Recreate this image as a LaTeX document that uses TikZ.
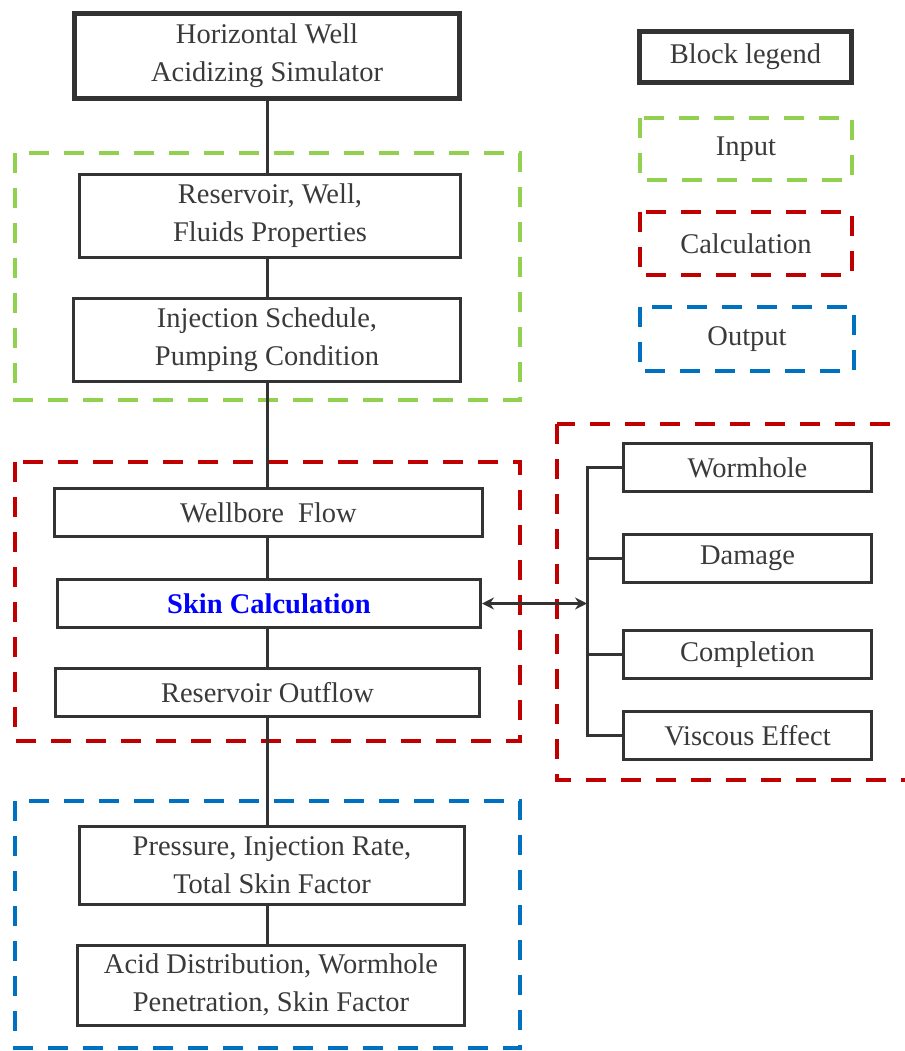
\documentclass[tikz,border=0pt]{standalone}
\usepackage{fontspec}
\setmainfont{Liberation Serif}
\usetikzlibrary{arrows.meta}
\definecolor{linegray}{HTML}{333333}
\definecolor{txtgray}{HTML}{3A3A3A}
\definecolor{ingreen}{HTML}{92D050}
\definecolor{calcred}{HTML}{C00000}
\definecolor{outblue}{HTML}{0070C0}
\definecolor{skinblue}{HTML}{0000FF}
\begin{document}
\begin{tikzpicture}[x=1pt,y=-1pt,
  every node/.style={font=\fontsize{28.5}{38}\selectfont, text=txtgray, align=center, inner sep=0pt},
  blk/.style={draw=linegray, line width=3pt, fill=white},
  thickblk/.style={draw=linegray, line width=5pt, fill=white},
  frame/.style={line width=4pt, dash pattern=on 20pt off 15pt},
  link/.style={draw=linegray, line width=3pt}]
\useasboundingbox (0,0) rectangle (904,1051);
% group frames
\draw[frame, ingreen] (15,153) rectangle (520,400);
\draw[frame, calcred] (15,462) rectangle (520,741);
\draw[frame, outblue] (15,801) rectangle (520,1048);
\draw[frame, calcred] (557,424) rectangle (945,780);
% main column
\node[thickblk, minimum width=385, minimum height=85] (top) at (267,56) {Horizontal Well\\Acidizing Simulator};
\node[blk, minimum width=381, minimum height=83] (res) at (270,216) {Reservoir, Well,\\Fluids Properties};
\node[blk, minimum width=387, minimum height=83] (inj) at (267,340) {Injection Schedule,\\Pumping Condition};
\node[blk, minimum width=428, minimum height=48] (wb) at (268.5,512.5) {Wellbore\ \ Flow};
\node[blk, minimum width=423, minimum height=48] (skin) at (269,603.5) {\textcolor{skinblue}{\textbf{Skin Calculation}}};
\node[blk, minimum width=424, minimum height=48] (ro) at (267.5,692.5) {Reservoir Outflow};
\node[blk, minimum width=385, minimum height=78] (pr) at (272,865) {Pressure, Injection Rate,\\Total Skin Factor};
\node[blk, minimum width=387, minimum height=80] (acid) at (271,985) {Acid Distribution, Wormhole\\Penetration, Skin Factor};
% right column
\node[blk, minimum width=248, minimum height=48] (worm) at (747.5,467.5) {Wormhole};
\node[blk, minimum width=248, minimum height=48] (dam) at (747.5,558.5) {Damage};
\node[blk, minimum width=248, minimum height=48] (comp) at (747.5,654.5) {Completion};
\node[blk, minimum width=248, minimum height=48] (visc) at (747.5,735.5) {Viscous Effect};
% legend
\node[thickblk, minimum width=212, minimum height=51] (lgblock) at (745.5,57) {Block legend};
\node[minimum width=212, minimum height=62] (lgin) at (746,149) {Input};
\draw[frame, ingreen] (lgin.north west) rectangle (lgin.south east);
\node[minimum width=212, minimum height=63] (lgcalc) at (746,243.5) {Calculation};
\draw[frame, calcred] (lgcalc.north west) rectangle (lgcalc.south east);
\node[minimum width=214, minimum height=64] (lgout) at (747,339) {Output};
\draw[frame, outblue] (lgout.north west) rectangle (lgout.south east);
% connectors main column
\coordinate (cx) at (267,0);
\draw[link] (cx |- top.south) -- (cx |- res.north);
\draw[link] (cx |- res.south) -- (cx |- inj.north);
\draw[link] (cx |- inj.south) -- (cx |- wb.north);
\draw[link] (cx |- wb.south) -- (cx |- skin.north);
\draw[link] (cx |- skin.south) -- (cx |- ro.north);
\draw[link] (cx |- ro.south) -- (cx |- pr.north);
\draw[link] (cx |- pr.south) -- (cx |- acid.north);
% bus on right
\coordinate (bx) at (587,0);
\coordinate (bus) at (bx |- skin.east);
\draw[link] (worm.west) -- (bx |- worm.west) -- (bx |- visc.west) -- (visc.west);
\draw[link] (dam.west) -- (bx |- dam.west);
\draw[link] (comp.west) -- (bx |- comp.west);
\draw[draw=linegray, line width=2.6pt, {Stealth[length=12pt,width=12pt,inset=4pt]}-{Stealth[length=12pt,width=12pt,inset=4pt]}, fill=linegray] (skin.east) -- (bus);
\end{tikzpicture}
\end{document}
